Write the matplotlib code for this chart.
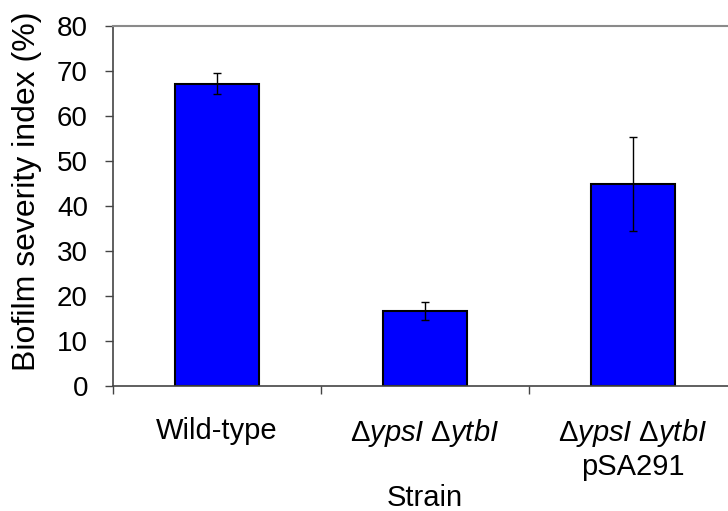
import matplotlib
matplotlib.use("Agg")
import matplotlib.pyplot as plt
import numpy as np

# --- data ---
strains = ["Wild-type",
           r"$\Delta\mathit{ypsI}$ $\Delta\mathit{ytbI}$",
           "$\\Delta\\mathit{ypsI}$ $\\Delta\\mathit{ytbI}$\npSA291"]
severity = [67.2, 16.7, 44.9]
errors = [2.3, 2.0, 10.5]
yticks = [0, 10, 20, 30, 40, 50, 60, 70, 80]

plt.rcParams["font.family"] = ["Liberation Sans", "DejaVu Sans"]
plt.rcParams["mathtext.fontset"] = "custom"
plt.rcParams["mathtext.rm"] = "Liberation Sans"
plt.rcParams["mathtext.it"] = "Liberation Sans:italic"

fig = plt.figure(figsize=(7.28, 5.11), dpi=100)
# axes runs past the right edge of the picture, as in the reference
ax = fig.add_axes([113 / 728, 125 / 511, 624 / 728, 360 / 511])

x = np.arange(len(strains))
ax.bar(x, severity, width=0.4, color="#0000ff", edgecolor="black", linewidth=1.5,
       yerr=errors, capsize=3,
       error_kw=dict(ecolor="black", elinewidth=1, capthick=1), zorder=2)

ax.set_xlim(-0.5, 2.5)
ax.set_ylim(0, 80)
ax.set_yticks(yticks)
ax.tick_params(axis="y", direction="out", length=6, width=1, pad=12,
               labelsize=20, color="#444444")

# category boundaries carry the ticks, labels sit at bar centres
ax.set_xticks([-0.5, 0.5, 1.5])
ax.set_xticklabels([])
ax.tick_params(axis="x", which="major", direction="out", length=6, width=1,
               color="#444444")
ax.set_xticks(x, minor=True)
ax.set_xticklabels(strains, minor=True)
ax.tick_params(axis="x", which="minor", length=0, pad=22, labelsize=21)

ax.set_ylabel("Biofilm severity index (%)", fontsize=23)
ax.yaxis.set_label_coords(-0.114, 0.542)
ax.set_xlabel("Strain", fontsize=21, labelpad=2)

for side in ["left", "bottom"]:
    ax.spines[side].set_color("#444444")
    ax.spines[side].set_linewidth(1.2)
ax.spines["top"].set_color("#8a8a8a")
ax.spines["top"].set_linewidth(1.5)
ax.spines["right"].set_color("#8a8a8a")

fig.savefig("out.png", dpi=100)
